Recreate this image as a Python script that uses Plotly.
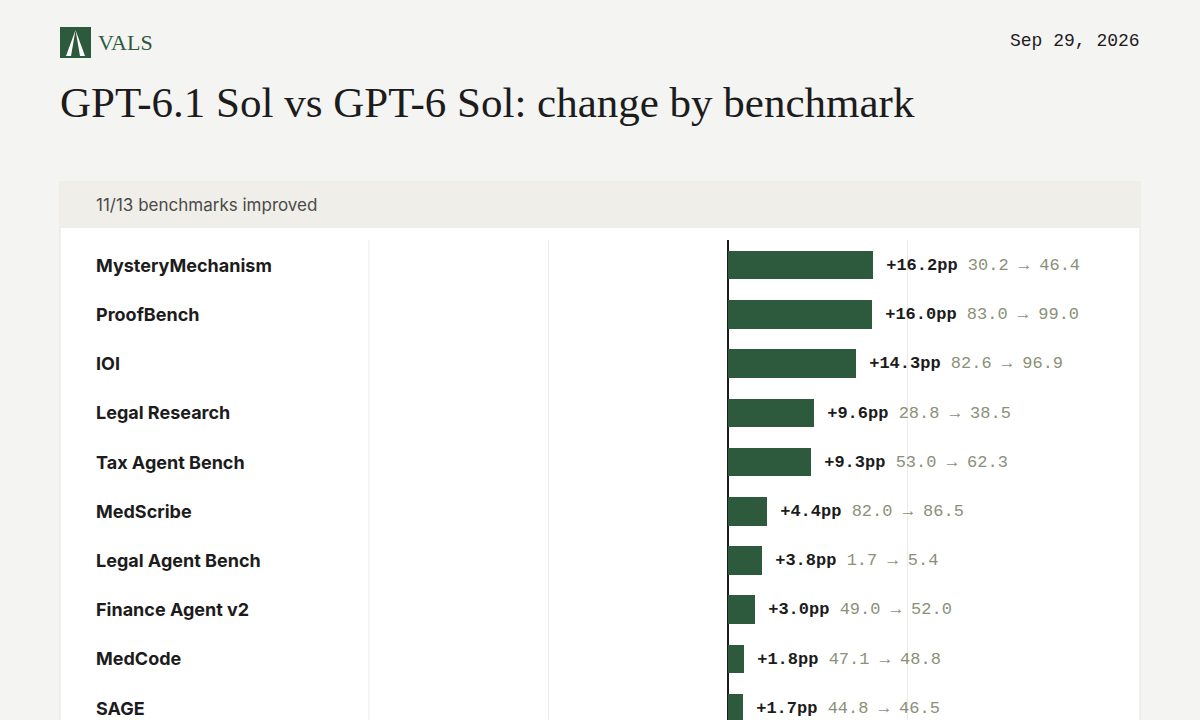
import plotly.graph_objects as go

benchmarks = ["MysteryMechanism", "ProofBench", "IOI", "Legal Research", "Tax Agent Bench",
              "MedScribe", "Legal Agent Bench", "Finance Agent v2", "MedCode", "SAGE"]
delta_pp = [16.2, 16.0, 14.3, 9.6, 9.3, 4.4, 3.8, 3.0, 1.8, 1.7]
before = [30.2, 83.0, 82.6, 28.8, 53.0, 82.0, 1.7, 49.0, 47.1, 44.8]
after = [46.4, 99.0, 96.9, 38.5, 62.3, 86.5, 5.4, 52.0, 48.8, 46.5]
grid_ticks = [-40, -20, 0, 20, 40]

W, H = 1200, 720
GREEN = "#2d5a3d"
MONO = "Liberation Mono, DejaVu Sans Mono, monospace"
SANS = "Inter, Roboto, sans-serif"


def px(v):
    return v / W


def py(v):
    return 1 - v / H


idx = list(range(len(benchmarks)))
labels = [
    f" <b>+{d:.1f}pp</b> <span style='color:#8b9078'>{b:.1f} → {a:.1f}</span>"
    for d, b, a in zip(delta_pp, before, after)
]

fig = go.Figure()
fig.add_trace(go.Bar(
    x=delta_pp, y=idx, orientation="h", width=0.58,
    marker=dict(color=GREEN, line=dict(width=0)),
    text=labels, textposition="outside", cliponaxis=False,
    textfont=dict(family=MONO, size=17, color="#1c1c1c"),
    hoverinfo="skip",
))

shapes = [
    # card
    dict(type="rect", xref="paper", yref="paper", x0=px(60), x1=px(1140), y0=py(730), y1=py(182),
         fillcolor="#ffffff", line=dict(color="#e6e5e0", width=1), layer="below"),
    dict(type="rect", xref="paper", yref="paper", x0=px(60), x1=px(1140), y0=py(228), y1=py(182),
         fillcolor="#efeee9", line=dict(width=0), layer="below"),
    # logo
    dict(type="rect", xref="paper", yref="paper", x0=px(60), x1=px(91), y0=py(58), y1=py(27),
         fillcolor=GREEN, line=dict(width=0)),
    dict(type="path", xref="paper", yref="paper",
         path=f"M {px(75.5)} {py(30)} L {px(66)} {py(56)} L {px(71)} {py(56)} Z "
              f"M {px(75.5)} {py(30)} L {px(85)} {py(56)} L {px(80)} {py(56)} Z",
         fillcolor="#ffffff", line=dict(width=0)),
    # label column divider
    dict(type="line", xref="paper", yref="paper", x0=px(369), x1=px(369), y0=0, y1=py(240),
         line=dict(color="#ecebe7", width=1), layer="below"),
]

fig.update_layout(
    width=W, height=H, margin=dict(l=0, r=0, t=0, b=0),
    paper_bgcolor="#f4f4f2", plot_bgcolor="rgba(0,0,0,0)",
    showlegend=False, shapes=shapes, bargap=0,
    xaxis=dict(domain=[px(369), px(1087)], range=[-40, 40], tickvals=grid_ticks,
               showticklabels=False, showgrid=True, gridcolor="#ecebe7", gridwidth=1,
               zeroline=True, zerolinecolor="#1c1c1c", zerolinewidth=2, fixedrange=True),
    yaxis=dict(domain=[0, py(240)], range=[9.24, -0.51], showticklabels=False,
               showgrid=False, zeroline=False, fixedrange=True),
)

ann = [
    dict(text="VALS", x=px(96), y=py(42), xanchor="left", yanchor="middle",
         font=dict(family="Liberation Serif, serif", size=22, color=GREEN), showarrow=False),
    dict(text="Sep 29, 2026", x=px(1142), y=py(41), xanchor="right", yanchor="middle",
         font=dict(family=MONO, size=18, color="#1c1c1c"), showarrow=False),
    dict(text="GPT-6.1 Sol vs GPT-6 Sol: change by benchmark", x=px(58), y=py(103),
         xanchor="left", yanchor="middle",
         font=dict(family="Liberation Serif, serif", size=43, color="#1c1c1c"), showarrow=False),
    dict(text="11/13 benchmarks improved", x=px(94), y=py(205), xanchor="left", yanchor="middle",
         font=dict(family=SANS, size=17, color="#4a4a4a"), showarrow=False),
]
for i, name in zip(idx, benchmarks):
    ann.append(dict(text=f"<b>{name}</b>", x=px(94), xref="paper", y=i, yref="y",
                    xanchor="left", yanchor="middle",
                    font=dict(family=SANS, size=18, color="#1c1c1c"), showarrow=False))
for a in ann:
    a.setdefault("xref", "paper")
    a.setdefault("yref", "paper")
fig.update_layout(annotations=ann)

fig.write_html("out.html", config={"displayModeBar": False},
               post_script="document.body.style.margin='0';")
